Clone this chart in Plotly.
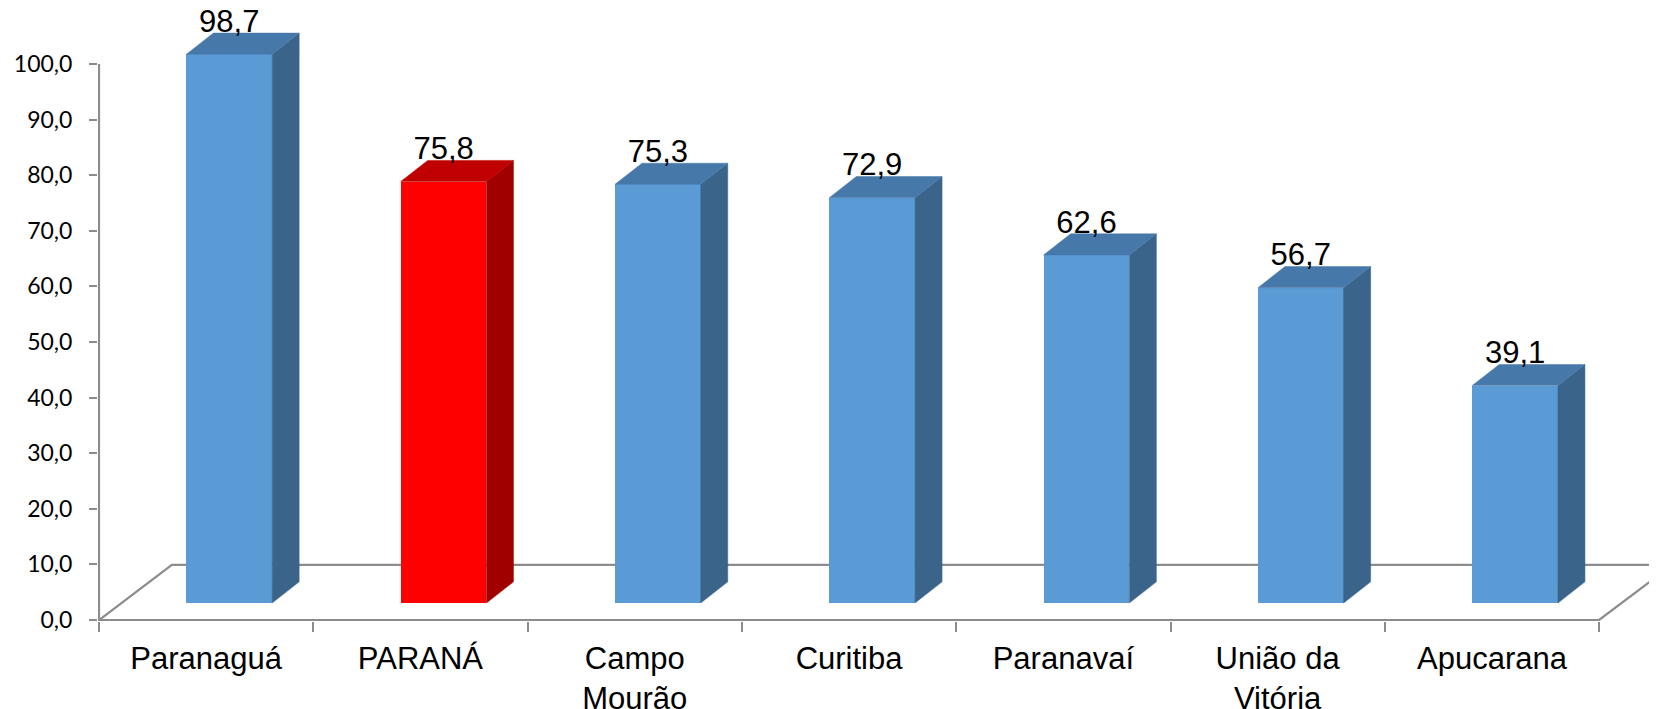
import plotly.graph_objects as go

# ---- data ----
categories = ["Paranaguá", "PARANÁ", "Campo<br>Mourão", "Curitiba", "Paranavaí", "União da<br>Vitória", "Apucarana"]
values = [98.7, 75.8, 75.3, 72.9, 62.6, 56.7, 39.1]
highlight = ["PARANÁ"]
y_ticks = list(range(0, 101, 10))
y_tick_text = [f"{v:.1f}".replace(".", ",") for v in y_ticks]

# ---- styling / pseudo-3D geometry (in axis units) ----
BLUE = dict(front="#5B9BD5", top="#4678AA", side="#3A6489")
RED = dict(front="#FF0000", top="#C00000", side="#A00000")
GRID = "#8C8C8C"
BAR_SHIFT = 0.108     # bar front centre offset from category centre
BAR_W = 0.40          # bar front width
BASE = 3.06           # bar front bottom (floor depth offset)
DX, DY = 0.126, 3.8   # bar depth
FLOOR_DX, FLOOR_DY = 0.34, 9.9
LABEL_OFF = 5.4

# page body has an 8px default margin -> figure is placed at (8, 8)
PAGE_OFF = 8
W, H = 1657 - PAGE_OFF, 709 - PAGE_OFF

fig = go.Figure()

xs = [i + BAR_SHIFT for i in range(len(values))]
cols = [RED if c in highlight else BLUE for c in categories]

fig.add_trace(go.Bar(
    x=xs, y=values, base=BASE, width=BAR_W,
    marker=dict(color=[c["front"] for c in cols], line=dict(width=0)),
    hoverinfo="skip", showlegend=False))

for x, v, c in zip(xs, values, cols):
    x0, x1 = x - BAR_W / 2, x + BAR_W / 2
    yb, yt = BASE, BASE + v
    # side face
    fig.add_trace(go.Scatter(
        x=[x1, x1 + DX, x1 + DX, x1, x1],
        y=[yb, yb + DY, yt + DY, yt, yb],
        fill="toself", fillcolor=c["side"], mode="lines",
        line=dict(color=c["side"], width=0.5), hoverinfo="skip", showlegend=False))
    # top face
    fig.add_trace(go.Scatter(
        x=[x0, x0 + DX, x1 + DX, x1, x0],
        y=[yt, yt + DY, yt + DY, yt, yt],
        fill="toself", fillcolor=c["top"], mode="lines",
        line=dict(color=c["top"], width=0.5), hoverinfo="skip", showlegend=False))

fig.add_trace(go.Scatter(
    x=xs, y=[v + BASE + LABEL_OFF for v in values],
    text=[f"{v:.1f}".replace(".", ",") for v in values],
    mode="text", textposition="middle center",
    textfont=dict(family="Liberation Sans, Arial", size=31, color="#000000"),
    hoverinfo="skip", showlegend=False, cliponaxis=False))

n = len(values)
xl, xr = -0.5, n - 0.5
# floor
fig.add_shape(type="path", layer="below",
              path=f"M {xl},0 L {xr},0 L {xr + FLOOR_DX},{FLOOR_DY} L {xl + FLOOR_DX},{FLOOR_DY} Z",
              line=dict(color=GRID, width=2.2), fillcolor="rgba(0,0,0,0)")
# y axis line
fig.add_shape(type="line", layer="above", x0=xl, x1=xl, y0=0, y1=100,
              line=dict(color=GRID, width=2.2))

px_per_cat = 214.3
px_per_unit = 5.56
fig.update_layout(
    width=W, height=H,
    margin=dict(l=98 - PAGE_OFF, r=0, t=0, b=88, pad=0, autoexpand=False),
    paper_bgcolor="white", plot_bgcolor="white",
    bargap=0,
    xaxis=dict(
        range=[xl - 1 / px_per_cat, xl + (1657 - 99) / px_per_cat],
        tickmode="array", tickvals=list(range(n)), ticktext=categories,
        ticks="", showgrid=False, zeroline=False, showline=False,
        automargin=False,
        tickfont=dict(family="Liberation Sans, Arial", size=31, color="#000000"),
        ticklabelstandoff=16,
        minor=dict(tickvals=[i - 0.5 for i in range(n + 1)], ticks="outside",
                   ticklen=10, tickwidth=2, tickcolor=GRID, showgrid=False),
    ),
    yaxis=dict(
        range=[-1 / px_per_unit, (620 - PAGE_OFF) / px_per_unit],
        tickmode="array", tickvals=y_ticks, ticktext=y_tick_text,
        ticks="outside", ticklen=8, tickwidth=2, tickcolor=GRID,
        showgrid=False, zeroline=False, showline=False,
        automargin=False,
        tickfont=dict(family="Lato, Open Sans", size=23, color="#000000"),
        ticklabelstandoff=12,
    ),
)

fig.write_html("out.html")
